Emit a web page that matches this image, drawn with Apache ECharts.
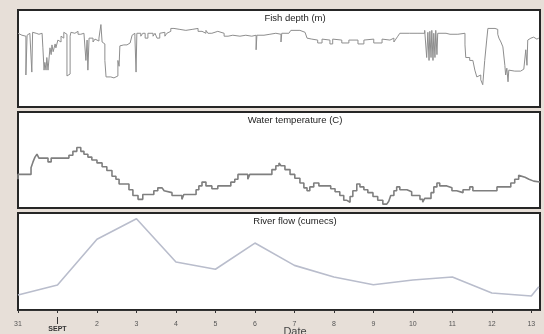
<!DOCTYPE html>
<html lang="en">
<head>
<meta charset="utf-8"/>
<title>Fish depth, water temperature and river flow</title>
<script src="https://cdn.jsdelivr.net/npm/echarts@6/dist/echarts.min.js"></script>
<style>
    html, body { margin: 0; padding: 0; background: #e7dfd8; }
    #main { width: 544px; height: 334px; }
</style>
</head>
<body>
<div id="main"></div>
<script>
// days since 31 Aug 00:00
var tickDays = [0, 1, 2, 3, 4, 5, 6, 7, 8, 9, 10, 11, 12, 13];
var tickLabels = ['31', 'SEPT', '2', '3', '4', '5', '6', '7', '8', '9', '10', '11', '12', '13'];
var lastDay = 13.22;

// [day, depth m]
var fishDepth = [
    [0, 2.4], [0.05, 2.4], [0.10, 2.6], [0.15, 2.5], [0.20, 2.7], [0.23, 6.7], [0.25, 2.6], [0.30, 2.4],
    [0.35, 2.5], [0.37, 6.4], [0.38, 2.3], [0.46, 2.4], [0.53, 2.5], [0.61, 2.4], [0.63, 2.6], [0.66, 3.9],
    [0.68, 6.2], [0.71, 5.4], [0.73, 6.2], [0.76, 4.9], [0.81, 6.2], [0.84, 3.9], [0.86, 4.6], [0.89, 3.6],
    [0.94, 4.3], [0.96, 3.5], [1.01, 3.9], [1.04, 3.1], [1.09, 3.3], [1.11, 2.7], [1.16, 2.9], [1.19, 2.3],
    [1.24, 2.5], [1.27, 6.8], [1.29, 7.0], [1.32, 6.6], [1.34, 2.7], [1.37, 2.3], [1.44, 2.4], [1.52, 2.2],
    [1.59, 2.5], [1.67, 2.4], [1.72, 2.5], [1.75, 5.2], [1.77, 3.1], [1.80, 6.2], [1.82, 2.9], [1.90, 2.9],
    [1.95, 3.3], [2.00, 3.0], [2.05, 3.2], [2.10, 2.9], [2.13, 1.5], [2.15, 3.3], [2.20, 3.5], [2.23, 5.2],
    [2.25, 6.9], [2.35, 6.9], [2.43, 7.0], [2.53, 6.8], [2.56, 5.2], [2.58, 5.8], [2.61, 3.7], [2.68, 3.6],
    [2.76, 3.6], [2.84, 3.4], [2.89, 3.2], [2.91, 2.6], [2.96, 2.4], [2.99, 2.7], [3.01, 6.4], [3.04, 2.4],
    [3.11, 2.4], [3.16, 2.7], [3.22, 2.4], [3.29, 2.9], [3.32, 2.4], [3.42, 2.4], [3.47, 2.7], [3.52, 2.4],
    [3.59, 2.9], [3.62, 2.4], [3.72, 2.3], [3.77, 2.7], [3.80, 2.4], [3.87, 2.2], [3.95, 1.9], [4.10, 2.0],
    [4.25, 2.1], [4.41, 2.0], [4.56, 1.9], [4.66, 2.2], [4.76, 2.4], [4.81, 2.1], [4.91, 2.4], [5.06, 2.2],
    [5.22, 2.4], [5.32, 2.7], [5.37, 2.9], [5.44, 2.6], [5.62, 2.7], [5.77, 2.6], [5.92, 2.7], [6.03, 2.6],
    [6.05, 4.1], [6.08, 2.6], [6.23, 2.6], [6.38, 2.5], [6.53, 2.4], [6.66, 2.5], [6.68, 3.3], [6.71, 2.4],
    [6.86, 2.4], [6.91, 2.2], [6.99, 2.1], [7.14, 2.1], [7.27, 2.3], [7.32, 2.5], [7.37, 2.9], [7.44, 3.0],
    [7.59, 3.1], [7.70, 3.4], [7.72, 3.0], [7.90, 3.1], [7.97, 3.5], [8.00, 3.0], [8.20, 3.1], [8.38, 3.4],
    [8.41, 3.1], [8.61, 3.1], [8.76, 3.5], [8.78, 3.1], [9.01, 3.0], [9.22, 3.4], [9.24, 3.0], [9.42, 3.1],
    [9.52, 2.9], [9.57, 3.3], [9.62, 3.0], [9.67, 2.7], [9.72, 2.4], [9.92, 2.4], [10.13, 2.4], [10.30, 2.4],
    [10.35, 2.1], [10.38, 4.9], [10.41, 2.3], [10.43, 5.2], [10.46, 2.2], [10.48, 4.9], [10.51, 2.1], [10.53, 5.2],
    [10.56, 2.4], [10.58, 4.9], [10.61, 2.1], [10.63, 4.6], [10.66, 2.4], [10.84, 2.4], [10.94, 2.5], [11.14, 2.5],
    [11.32, 2.4], [11.34, 3.6], [11.37, 4.9], [11.44, 4.9], [11.52, 5.2], [11.57, 5.4], [11.62, 6.2], [11.67, 6.9],
    [11.72, 6.7], [11.77, 7.2], [11.82, 7.7], [11.87, 5.2], [11.90, 3.1], [11.92, 1.9], [12.08, 1.9], [12.15, 2.0],
    [12.18, 2.5], [12.23, 2.9], [12.28, 3.3], [12.33, 3.8], [12.35, 5.7], [12.38, 6.7], [12.41, 6.0], [12.43, 7.4],
    [12.46, 6.2], [12.58, 6.3], [12.73, 6.3], [12.81, 6.1], [12.86, 6.2], [12.89, 4.1], [12.91, 5.7], [12.94, 3.1],
    [12.99, 2.9], [13.06, 2.8], [13.14, 3.0], [13.19, 2.9]
];

// [day, deg C]
var waterTemp = [
    [0, 13.0], [0.33, 13.5], [0.38, 14.2], [0.43, 14.8], [0.48, 15.3], [0.53, 15.6], [0.76, 15.2], [0.84, 14.8],
    [1.29, 15.2], [1.39, 15.5], [1.49, 15.9], [1.59, 16.3], [1.67, 15.9], [1.77, 15.6], [1.87, 15.3], [2.00, 15.0],
    [2.13, 14.7], [2.25, 14.3], [2.38, 13.9], [2.48, 13.3], [2.56, 13.0], [2.81, 12.5], [2.91, 11.9], [3.04, 11.3],
    [3.16, 10.9], [3.44, 11.4], [3.54, 11.8], [3.65, 12.1], [3.70, 12.3], [3.75, 11.8], [3.90, 11.6], [4.15, 11.3],
    [4.20, 10.9], [4.51, 11.4], [4.58, 11.9], [4.66, 12.3], [4.76, 12.7], [4.91, 12.3], [5.06, 12.0], [5.39, 12.3],
    [5.49, 12.7], [5.57, 13.0], [5.82, 13.5], [5.87, 13.0], [6.43, 13.5], [6.53, 14.0], [6.61, 14.4], [6.66, 14.7],
    [6.76, 14.4], [6.89, 14.0], [7.01, 13.5], [7.14, 13.1], [7.24, 12.6], [7.32, 12.1], [7.39, 11.8], [7.49, 12.2],
    [7.62, 12.6], [7.92, 12.3], [8.03, 12.0], [8.15, 11.7], [8.25, 11.3], [8.33, 10.8], [8.41, 10.6], [8.48, 11.2],
    [8.58, 11.8], [8.66, 12.5], [8.76, 12.2], [8.86, 11.9], [8.99, 11.6], [9.11, 11.2], [9.24, 10.8], [9.34, 10.4],
    [9.39, 10.2], [9.44, 10.7], [9.52, 11.3], [9.59, 11.8], [9.67, 12.2], [9.85, 11.9], [9.97, 11.7], [10.18, 11.3],
    [10.25, 10.9], [10.30, 10.6], [10.46, 11.0], [10.53, 11.6], [10.61, 12.2], [10.68, 12.6], [10.86, 12.3], [10.99, 12.1],
    [11.11, 11.8], [11.27, 11.6], [11.44, 11.9], [11.52, 12.2], [12.13, 11.8], [12.48, 12.2], [12.58, 12.6], [12.68, 13.0],
    [12.73, 13.4], [12.84, 13.2], [12.94, 13.0], [13.06, 12.8], [13.22, 12.7]
];

// daily river flow (relative units)
var flowDays = [0, 1, 2, 3, 4, 5, 6, 7, 8, 9, 10, 11, 12, 13, 13.19];
var flowValues = [15.5, 25.8, 73, 94, 49.5, 42, 69, 46, 34, 26, 31, 34, 17.5, 14.5, 24];

var chart = echarts.init(document.getElementById('main'));

// v6 grids shrink to fit labels by default, the panels here are fixed boxes
var panel = {
    left: 18, right: 4, show: true, outerBoundsMode: 'none',
    backgroundColor: '#fff', borderColor: '#262626', borderWidth: 2
};
var hiddenX = function (i) {
    return { type: 'value', gridIndex: i, min: 0, max: lastDay, show: false };
};
var titleStyle = { fontSize: 9.5, fontWeight: 'normal', color: '#222' };

var option = {
    animation: false,
    backgroundColor: '#e7dfd8',
    textStyle: { fontFamily: 'Liberation Sans, Arial, sans-serif' },
    title: [
        { text: 'Fish depth (m)', left: 295, top: 13, textAlign: 'center', padding: 0, textStyle: titleStyle },
        { text: 'Water temperature (C)', left: 295, top: 115, textAlign: 'center', padding: 0, textStyle: titleStyle },
        { text: 'River flow (cumecs)', left: 295, top: 216, textAlign: 'center', padding: 0, textStyle: titleStyle }
    ],
    grid: [
        Object.assign({ top: 10, height: 97 }, panel),
        Object.assign({ top: 112, height: 96 }, panel),
        Object.assign({ top: 213, height: 97 }, panel)
    ],
    xAxis: [
        hiddenX(0),
        hiddenX(1),
        {
            type: 'value', gridIndex: 2, min: 0, max: lastDay, interval: 1,
            position: 'bottom', offset: 7,
            splitLine: { show: false },
            axisLine: { lineStyle: { color: '#333', width: 1 } },
            axisTick: { customValues: tickDays, length: 3, lineStyle: { color: '#333' } },
            axisLabel: {
                customValues: tickDays, fontSize: 7, color: '#555', margin: 4,
                formatter: function (v) {
                    var i = tickDays.indexOf(v);
                    if (i < 0) return '';
                    return i === 1 ? '{s|' + tickLabels[i] + '}' : tickLabels[i];
                },
                rich: { s: { fontSize: 7, fontWeight: 'bold', color: '#333', padding: [5, 0, 0, 0] } }
            },
            name: 'Date', nameLocation: 'middle', nameGap: 9, nameMoveOverlap: false,
            nameTextStyle: { fontSize: 11, color: '#444', padding: [0, 0, 0, 32] }
        },
        {
            type: 'value', gridIndex: 2, min: 0, max: lastDay, position: 'bottom', offset: 7,
            splitLine: { show: false },
            axisLine: { show: false },
            axisLabel: { show: false },
            axisTick: { customValues: [1], length: 7, lineStyle: { color: '#333' } }
        }
    ],
    yAxis: [
        { type: 'value', gridIndex: 0, min: 0, max: 10, inverse: true, show: false },
        { type: 'value', gridIndex: 1, min: 10, max: 20, show: false },
        { type: 'value', gridIndex: 2, min: 0, max: 100, show: false }
    ],
    series: [
        {
            name: 'Fish depth', type: 'line', xAxisIndex: 0, yAxisIndex: 0,
            data: fishDepth, step: 'start', showSymbol: false,
            lineStyle: { color: '#8e8e8e', width: 1 }
        },
        {
            name: 'Water temperature', type: 'line', xAxisIndex: 1, yAxisIndex: 1,
            data: waterTemp, step: 'start', showSymbol: false,
            lineStyle: { color: '#7f7f7f', width: 1.6 }
        },
        {
            name: 'River flow', type: 'line', xAxisIndex: 2, yAxisIndex: 2,
            data: flowDays.map(function (d, i) { return [d, flowValues[i]]; }),
            showSymbol: false,
            lineStyle: { color: '#b9bdcc', width: 1.6 }
        }
    ]
};

chart.setOption(option);
</script>
</body>
</html>
